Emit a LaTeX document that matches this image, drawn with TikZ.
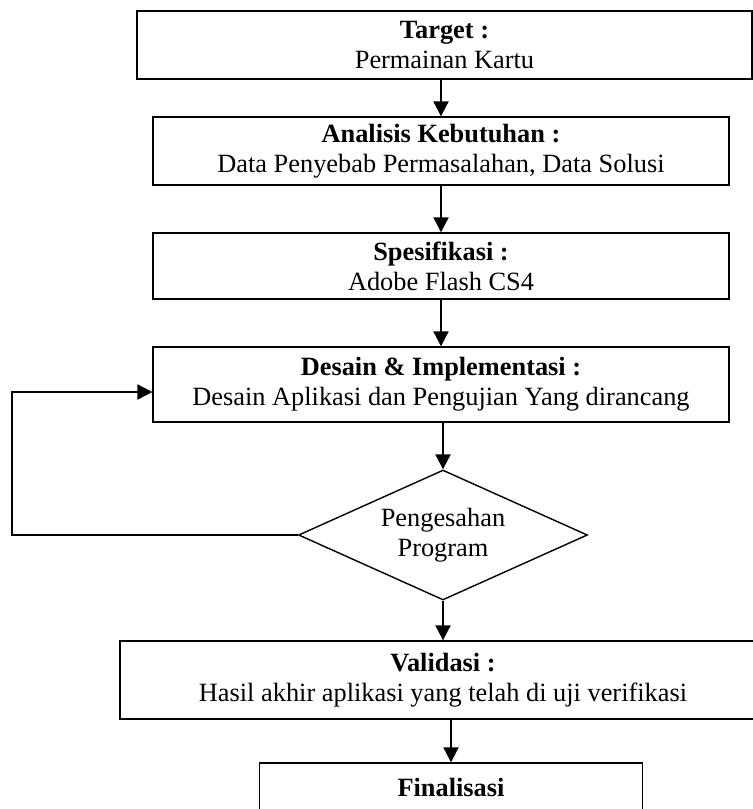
\documentclass[tikz,border=0pt]{standalone}
\usepackage{fontspec}
\setmainfont{Liberation Serif}
\usetikzlibrary{arrows.meta, shapes.geometric, calc}

\begin{document}
\begin{tikzpicture}[x=0.02cm, y=-0.02cm,
	font=\fontsize{15}{17}\selectfont,
	kotak/.style={rectangle, draw=black, line width=0.8pt, align=center,
		inner sep=2pt, minimum width=11.52cm, minimum height=1.36cm},
	putusan/.style={diamond, draw=black, line width=0.8pt, align=center,
		inner sep=0pt, aspect=2.22, minimum width=5.78cm, minimum height=2.6cm},
	panah/.style={-{Triangle[length=0.3cm, width=0.3cm]}, line width=1.2pt}]

	\clip (0,0) rectangle (753,809);

	\node[kotak, minimum width=12.3cm] (target) at (444.5,45) {\textbf{Target :}\\Permainan Kartu};
	\node[kotak] (analisis) at (441,151) {\textbf{Analisis Kebutuhan :}\\Data Penyebab Permasalahan, Data Solusi};
	\node[kotak, minimum height=1.32cm] (spek) at (441,266) {\textbf{Spesifikasi :}\\Adobe Flash CS4};
	\node[kotak, minimum height=1.5cm] (desain) at (441,384.5) {\textbf{Desain \& Implementasi :}\\Desain Aplikasi dan Pengujian Yang dirancang};
	\node[putusan] (sah) at (443,535) {Pengesahan\\Program};
	\node[kotak, minimum width=12.92cm, minimum height=1.56cm] (validasi) at (443,680) {\textbf{Validasi :}\\Hasil akhir aplikasi yang telah di uji verifikasi};
	\node[kotak, minimum width=7.66cm, minimum height=1.56cm] (final) at (451,802) {\textbf{Finalisasi}\\\mbox{}};

	\coordinate (balik) at (12,392);

	\draw[panah] (target.south -| analisis) -- (analisis.north);
	\draw[panah] (analisis) -- (spek);
	\draw[panah] (spek) -- (desain);
	\draw[panah] (desain.south -| sah) -- (sah.north);
	\draw[panah] (sah) -- (validasi);
	\draw[panah] (validasi.south -| final) -- (final.north);
	\draw[panah] (sah.west) -| (balik) -- (balik -| desain.west);
\end{tikzpicture}
\end{document}
